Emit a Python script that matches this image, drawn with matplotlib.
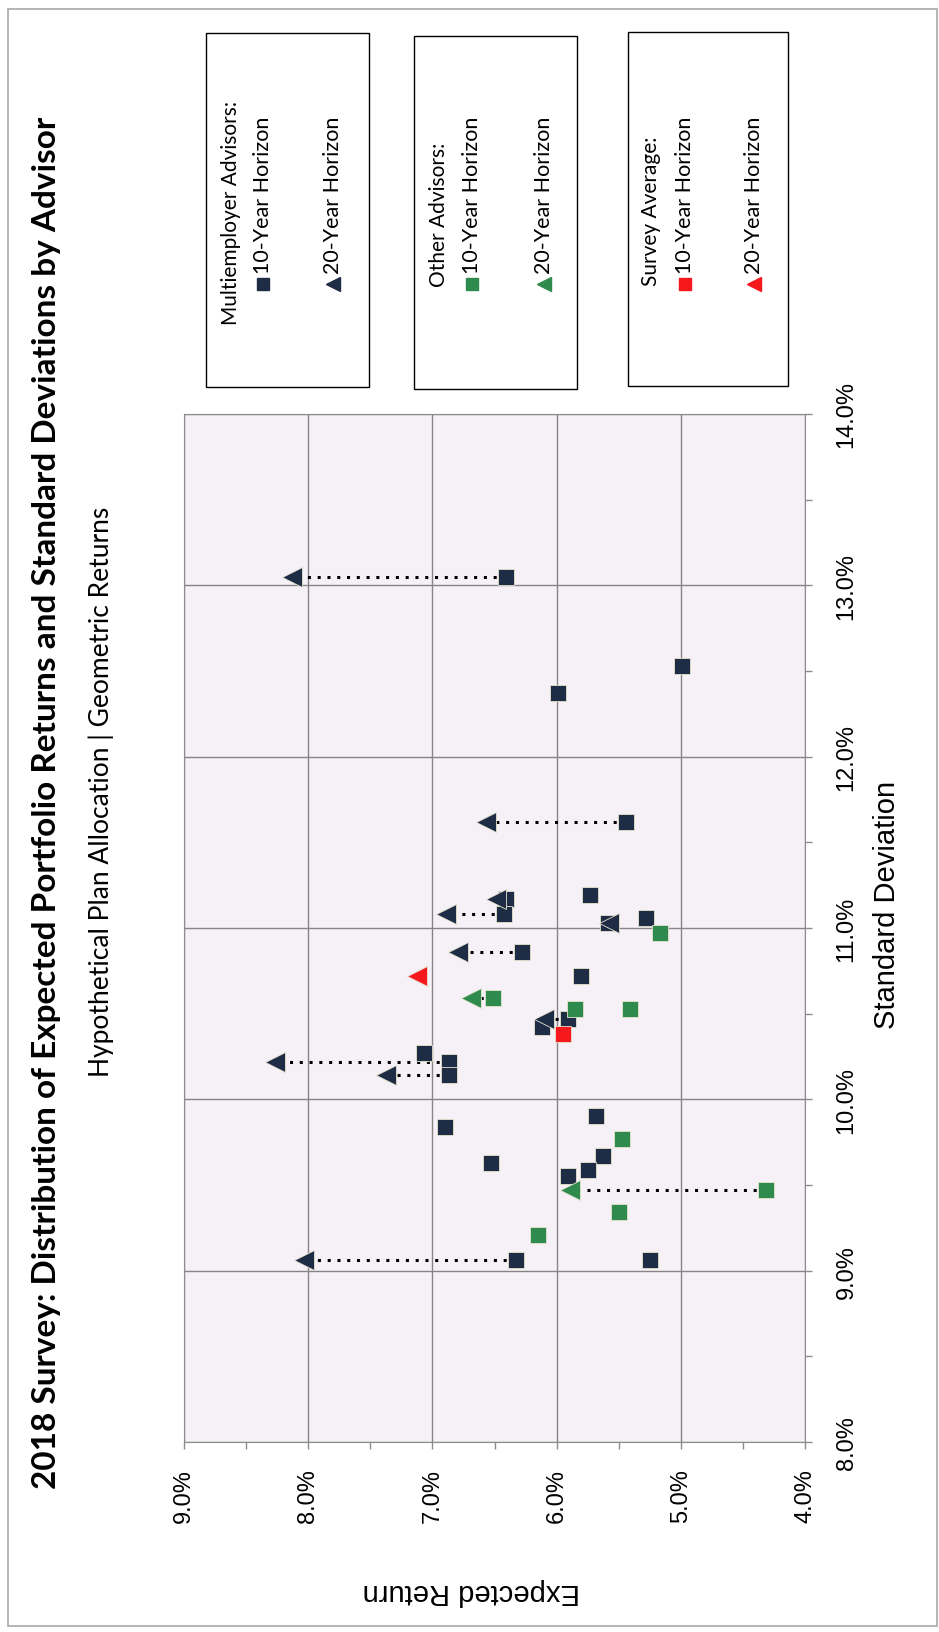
import numpy as np
import matplotlib.pyplot as plt
from matplotlib.patches import Rectangle
from matplotlib.lines import Line2D

# Multiemployer advisors, 10-year horizon (first ten have a 20-year point)
me10_sd = [13.05, 11.62, 11.17, 11.08, 11.03, 10.86, 10.47, 10.22, 10.14, 9.06,
           12.53, 12.37, 11.19, 11.06, 10.72, 10.42, 10.27, 9.90, 9.84, 9.67,
           9.63, 9.59, 9.55, 9.06]
me10_ret = [6.41, 5.44, 6.41, 6.42, 5.59, 6.28, 5.91, 6.87, 6.87, 6.33,
            4.99, 5.99, 5.73, 5.28, 5.80, 6.12, 7.07, 5.68, 6.90, 5.63,
            6.53, 5.75, 5.91, 5.25]
# Multiemployer advisors, 20-year horizon
me20_sd = [13.05, 11.62, 11.17, 11.08, 11.03, 10.86, 10.47, 10.22, 10.14, 9.06]
me20_ret = [8.13, 6.57, 6.49, 6.89, 5.58, 6.79, 6.10, 8.27, 7.37, 8.03]

# Other advisors
ot10_sd = [10.59, 9.47, 10.97, 10.53, 10.53, 9.77, 9.34, 9.21]
ot10_ret = [6.51, 4.31, 5.17, 5.85, 5.41, 5.47, 5.50, 6.15]
ot20_sd = [10.59, 9.47]
ot20_ret = [6.69, 5.89]

# Survey average
avg10_sd, avg10_ret = [10.38], [5.95]
avg20_sd, avg20_ret = [10.72], [7.12]

ret_ticks = [9, 8, 7, 6, 5, 4]
sd_ticks = [8, 9, 10, 11, 12, 13, 14]

NAVY = "#1f2c45"
GREEN = "#2f8a4e"
RED = "#f5191e"

W, H = 939, 1633


def fx(px):
    return px / W


def fy(py):
    return 1 - py / H


fig = plt.figure(figsize=(W / 100, H / 100), dpi=100)

# page frame
fig.add_artist(Rectangle((fx(8), fy(1627)), fx(929), (1627 - 10) / H,
                         transform=fig.transFigure, fill=False,
                         edgecolor="#a8a8a8", lw=1.2))

ax = fig.add_axes([fx(184), fy(1443), (805 - 184) / W, (1443 - 415) / H])
ax.set_facecolor("#f5f1f7")
ax.set_xlim(9, 4)
ax.set_ylim(8, 14)
ax.set_axisbelow(True)

ax.set_xticks(ret_ticks)
ax.set_xticklabels(["{:.1f}%".format(v) for v in ret_ticks],
                   rotation=90, ha="center", va="top",
                   family="Liberation Sans", fontsize=17)
ax.set_xticks(np.arange(4.5, 9, 1.0), minor=True)
ax.yaxis.tick_right()
ax.set_yticks(sd_ticks)
ax.set_yticklabels(["{:.1f}%".format(v) for v in sd_ticks],
                   rotation=90, ha="left", va="center",
                   family="Liberation Sans", fontsize=17)
ax.set_yticks(np.arange(8.5, 14, 1.0), minor=True)
ax.tick_params(which="both", direction="out", length=5, width=1,
               color="#8c8c8c")
ax.tick_params(axis="x", which="major", pad=14)
ax.tick_params(axis="y", which="major", pad=17)
ax.grid(which="major", color="#858585", lw=1)
for s in ax.spines.values():
    s.set_color("#8c8c8c")

# dotted connectors 10-year -> 20-year
for i in range(len(me20_ret)):
    ax.plot([me10_ret[i], me20_ret[i]], [me10_sd[i], me20_sd[i]],
            color="black", lw=2.2, ls=(0, (1, 2.2)), zorder=3)
for i in range(len(ot20_ret)):
    ax.plot([ot10_ret[i], ot20_ret[i]], [ot10_sd[i], ot20_sd[i]],
            color="black", lw=2.2, ls=(0, (1, 2.2)), zorder=3)

mk = dict(ls="none", mec="#e6e4cf", mew=0.6)
ax.plot(me10_ret, me10_sd, "s", ms=11, color=NAVY, zorder=4, **mk)
ax.plot(me20_ret, me20_sd, "<", ms=15, color=NAVY, zorder=5, **mk)
ax.plot(ot10_ret, ot10_sd, "s", ms=11, color=GREEN, zorder=6, **mk)
ax.plot(ot20_ret, ot20_sd, "<", ms=15, color=GREEN, zorder=7, **mk)
ax.plot(avg10_ret, avg10_sd, "s", ms=11, color=RED, zorder=8, **mk)
ax.plot(avg20_ret, avg20_sd, "<", ms=15, color=RED, zorder=8, **mk)

# titles
fig.text(fx(47), fy(803),
         "2018 Survey: Distribution of Expected Portfolio Returns and Standard Deviations by Advisor",
         rotation=90, ha="center", va="center", family="Lato",
         fontweight="bold", fontsize=24)
fig.text(fx(101), fy(792), "Hypothetical Plan Allocation | Geometric Returns",
         rotation=90, ha="center", va="center", family="Lato", fontsize=19)
fig.text(fx(887), fy(905), "Standard Deviation", rotation=90,
         ha="center", va="center", family="Liberation Sans", fontsize=21)
fig.text(fx(471), fy(1592), "Expected Return", rotation=180,
         ha="center", va="center", family="Liberation Sans", fontsize=21)

# legend boxes
boxes = [(206, 369, 34, 388), (414, 577, 37, 390), (628, 788, 33, 387)]
headers = ["Multiemployer Advisors:", "Other Advisors:", "Survey Average:"]
head_start = [325, 287, 286]
colors = [NAVY, GREEN, RED]
col_x = [(231, 263, 333), (439, 472, 544), (651, 685, 754)]
for (x0, x1, y0, y1), head, hs, c, (hx, e1, e2) in zip(boxes, headers, head_start,
                                                         colors, col_x):
    fig.add_artist(Rectangle((fx(x0), fy(y1)), (x1 - x0) / W, (y1 - y0) / H,
                             transform=fig.transFigure, facecolor="white",
                             edgecolor="black", lw=1))
    fig.text(fx(hx), fy(hs), head, rotation=90, ha="center", va="bottom",
             family="Lato", fontsize=15)
    for ex, m, lab in [(e1, "s", "10-Year Horizon"), (e2, "<", "20-Year Horizon")]:
        fig.add_artist(Line2D([fx(ex)], [fy(285)], marker=m, ms=9 if m == "s" else 10,
                              color=c, ls="none", transform=fig.transFigure))
        fig.text(fx(ex), fy(274), lab, rotation=90, ha="center", va="bottom",
                 family="Lato", fontsize=15.5)

fig.savefig("out.png", dpi=100)
